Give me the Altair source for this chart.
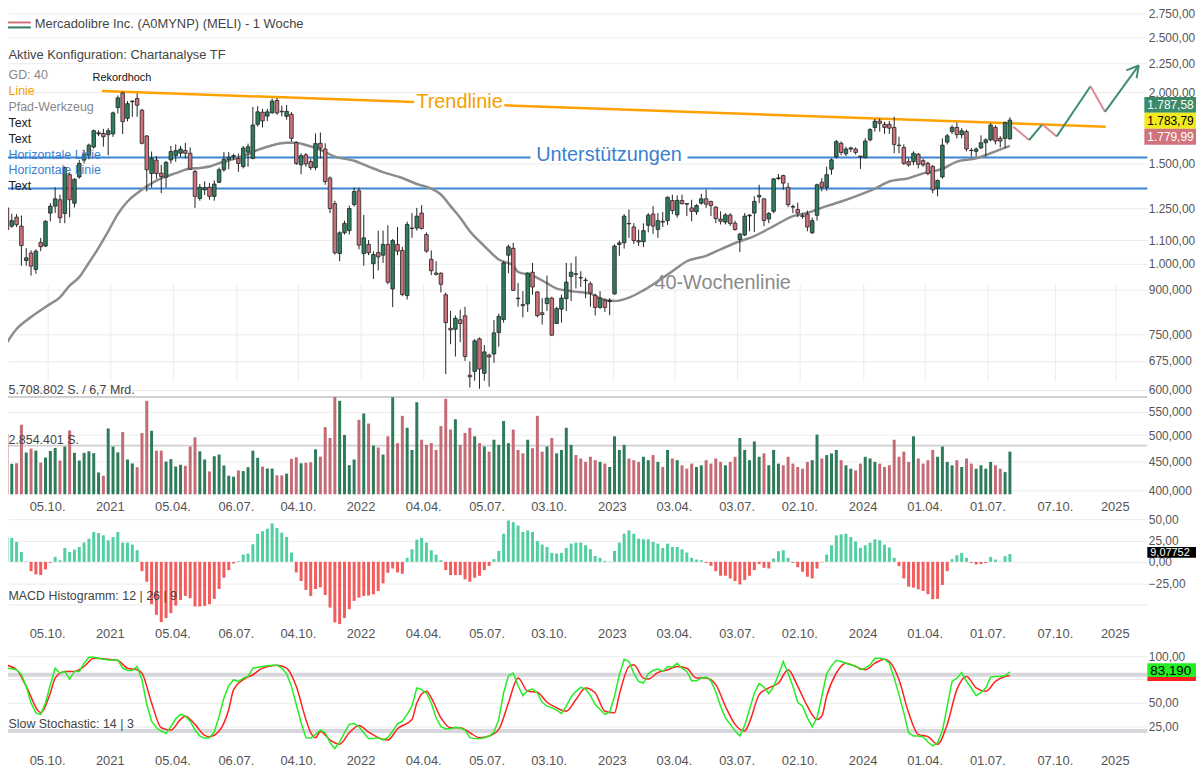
import altair as alt
import pandas as pd
import numpy as np

FONT = "Liberation Sans"

# ---------------- data ----------------
N_WEEKS = 210
FIRST_WEEK = "2020-07-31"

opens = [1114,1253,1164,1207,1164,1013,1044,977,1090,1074,
1227,1262,1295,1225,1433,1277,1420,1520,1550,1603,
1690,1693,1685,1690,1880,1995,1800,1925,1950,1860,
1676,1440,1520,1442,1418,1521,1548,1563,1580,1563,
1452,1302,1348,1362,1313,1390,1462,1525,1540,1531,
1481,1570,1531,1757,1845,1816,1840,1935,1852,1815,
1830,1631,1491,1553,1511,1475,1627,1590,1414,1275,
1042,1133,1143,1270,1343,1042,1081,1000,1046,1035,
1081,903,1081,1055,879,1153,1155,1227,1125,1018,
963,962,882,770,767,797,810,637,647,738,
642,691,694,757,798,1035,1064,870,848,850,
966,892,820,851,870,785,832,868,950,960,
946,936,922,880,838,862,858,885,1081,1088,
1177,1160,1098,1093,1168,1222,1148,1187,1190,1291,
1218,1291,1275,1253,1233,1277,1300,1286,1257,1198,
1183,1217,1178,1103,1123,1213,1227,1310,1300,1198,
1236,1410,1428,1362,1260,1245,1214,1222,1133,1216,
1390,1362,1465,1540,1627,1560,1590,1590,1545,1536,
1650,1735,1780,1757,1757,1735,1615,1600,1511,1511,
1557,1517,1500,1481,1357,1420,1635,1706,1735,1685,
1706,1582,1575,1597,1631,1650,1735,1660,1660,1657]

highs = [1236,1258,1223,1222,1215,1065,1056,1060,1110,1192,
1277,1362,1322,1481,1445,1413,1520,1585,1625,1720,
1715,1725,1730,1850,1975,2005,1930,1935,1990,1870,
1682,1574,1545,1491,1515,1610,1620,1610,1630,1600,
1462,1380,1395,1385,1400,1475,1570,1570,1560,1560,
1610,1625,1885,1890,1870,1870,1950,1955,1895,1900,
1845,1640,1563,1565,1530,1693,1700,1627,1423,1290,
1140,1190,1265,1360,1360,1218,1100,1052,1143,1143,
1168,1105,1160,1070,1185,1227,1253,1267,1135,1055,
1010,966,890,826,811,830,840,673,737,742,
720,695,796,817,1010,1081,1088,925,895,966,
1003,895,870,953,875,840,882,1003,1003,1030,
970,945,930,886,895,868,870,1081,1098,1222,
1245,1178,1148,1177,1227,1262,1227,1232,1313,1322,
1318,1322,1277,1295,1272,1326,1350,1290,1262,1236,
1227,1227,1190,1133,1227,1222,1313,1376,1303,1232,
1413,1437,1433,1387,1270,1280,1227,1240,1205,1382,
1413,1481,1531,1650,1640,1605,1605,1600,1548,1660,
1730,1795,1800,1775,1780,1811,1671,1620,1530,1575,
1565,1530,1511,1491,1405,1660,1690,1750,1770,1730,
1720,1597,1600,1680,1660,1765,1750,1675,1776,1808]

lows = [1108,1143,1156,1160,992,992,953,960,1052,1070,
1187,1227,1178,1178,1207,1255,1410,1500,1525,1592,
1675,1605,1550,1670,1835,1690,1778,1811,1811,1620,
1339,1360,1410,1330,1360,1500,1510,1540,1530,1460,
1253,1290,1320,1295,1290,1385,1450,1465,1520,1450,
1470,1480,1525,1740,1735,1780,1835,1825,1815,1790,
1638,1490,1436,1480,1460,1460,1530,1376,1227,1037,
1010,1125,1125,1260,1060,992,1035,940,973,1003,
920,839,1035,877,865,1110,1143,1148,1045,955,
953,890,640,722,687,728,675,606,623,603,
623,608,670,715,788,962,895,840,805,823,
882,805,782,826,746,784,788,826,860,905,
910,870,840,811,833,823,812,882,1032,1063,
1110,1083,1074,1070,1135,1128,1110,1160,1170,1222,
1205,1270,1212,1187,1218,1270,1253,1212,1178,1172,
1172,1165,1143,1048,1118,1140,1137,1277,1164,1178,
1227,1404,1348,1257,1227,1207,1200,1140,1128,1190,
1340,1343,1433,1531,1550,1545,1570,1555,1467,1531,
1640,1706,1706,1690,1690,1563,1563,1491,1480,1490,
1470,1480,1430,1330,1313,1410,1620,1690,1660,1660,
1575,1542,1542,1590,1542,1640,1620,1600,1596,1650]

closes = [1174,1148,1190,1171,1076,1024,990,1052,1071,1187,
1262,1300,1204,1475,1295,1407,1500,1556,1615,1712,
1698,1671,1712,1840,1955,1776,1910,1930,1898,1627,
1462,1530,1440,1423,1506,1574,1580,1590,1563,1465,
1313,1362,1360,1313,1380,1462,1525,1537,1548,1500,
1596,1605,1752,1848,1781,1848,1930,1840,1848,1852,
1660,1500,1548,1497,1475,1625,1596,1394,1250,1045,
1133,1177,1250,1339,1078,1110,1045,1038,1028,1081,
928,1098,1052,883,1172,1155,1212,1153,1052,972,
958,920,788,765,802,785,687,633,732,653,
700,686,756,808,1003,1071,898,868,844,963,
910,811,814,870,749,834,870,928,966,958,
944,934,888,838,870,838,862,1074,1088,1212,
1175,1098,1092,1143,1217,1164,1190,1183,1308,1240,
1292,1275,1272,1236,1265,1300,1272,1265,1200,1187,
1218,1176,1148,1127,1212,1217,1286,1318,1191,1225,
1409,1415,1385,1270,1257,1227,1210,1160,1190,1376,
1362,1433,1522,1638,1568,1590,1597,1568,1540,1642,
1720,1780,1764,1735,1730,1620,1612,1500,1491,1563,
1495,1491,1440,1348,1400,1615,1677,1735,1685,1712,
1590,1580,1590,1631,1650,1752,1642,1642,1770,1787.58]

# weekly volume, millions of shares
volumes = [2.81,3.54,1.79,1.82,4.08,2.45,2.68,2.56,1.86,2.16,
2.54,2.72,1.98,2.80,3.75,2.43,1.98,2.43,2.52,2.41,
1.28,1.09,3.86,2.80,2.46,3.65,2.04,1.81,1.59,3.59,
5.48,3.73,2.56,2.56,1.92,2.06,1.63,1.73,1.67,2.80,
3.34,2.52,2.04,1.34,2.23,2.33,1.69,1.09,1.03,1.40,
1.36,1.59,2.56,2.14,1.61,1.51,1.51,1.11,1.11,1.21,
2.08,2.17,1.82,1.85,1.88,2.64,2.21,3.94,3.30,5.70,
5.48,3.48,1.71,2.04,4.37,4.74,4.15,2.85,2.74,2.33,
3.40,5.69,3.0,4.6,3.9,2.6,5.4,3.2,2.9,3.0,
2.6,4.0,5.6,3.8,4.4,2.9,3.6,3.9,3.4,3.0,
2.8,2.5,3.2,2.9,4.3,3.0,3.8,2.6,2.4,3.2,
2.7,4.6,2.5,2.8,3.3,2.4,2.6,3.9,2.9,2.3,
2.1,1.9,2.2,2.0,1.9,1.8,1.6,3.4,2.6,2.9,
2.1,2.0,1.9,2.2,2.0,2.3,1.9,1.6,2.6,2.1,
2.0,1.7,1.5,1.8,1.6,1.7,2.0,1.8,2.1,1.9,
1.7,1.9,2.2,3.3,2.6,2.0,3.1,2.2,2.4,1.7,
2.6,1.8,1.7,2.2,1.8,1.6,1.5,1.9,2.0,3.5,
2.1,2.3,2.4,2.6,2.0,1.7,1.5,1.4,1.8,2.2,
2.1,1.9,1.8,1.6,1.7,3.2,2.2,2.5,1.9,3.4,
2.1,1.8,2.0,2.6,2.2,2.8,1.9,1.7,2.0,1.6,
2.1,1.8,1.5,1.7,1.5,1.9,1.7,1.5,1.3,2.5]
VOL_MAX = 5.708802
VOL_HALF = 2.854401

macd = [31.8,29,27.9,23.3,11.6,0.5,-10.9,-14.7,-15.5,-8.9,
-1,5.8,1.9,16.3,11.6,14.3,17.4,22.5,27.1,34.9,
33.7,31,25.2,29.1,34.9,22.5,22.5,20.2,13.6,-10.9,
-23.3,-49.6,-62,-70.5,-65.9,-60,-51.2,-44.6,-39.9,-42.6,
-52.3,-52.3,-51.6,-49.6,-43.4,-31.8,-18.6,-9.7,-1.9,0.8,
8.5,9.7,20.5,32.9,35.7,38.8,45,39.5,34.1,29.1,
10.9,-12.4,-22.5,-32.9,-39.9,-31.8,-29.8,-38.8,-53.5,-70.9,
-72.9,-65.9,-55.4,-45.7,-41.9,-39.9,-39.5,-38,-34.1,-25.2,
-12.8,-7.8,-12.4,-14,4.7,14.7,26,27.9,22.5,13.6,
8.5,1.9,-9.7,-15.5,-15.5,-15.5,-20.5,-23.3,-18.6,-16.3,
-9.7,-4.7,3.1,12.8,32.9,48.4,46.5,42.6,34.9,36.8,
34.9,24.4,20.2,17.4,10.5,9.7,10.5,16.3,21.3,22.5,
22.5,19.4,14.7,7,4.7,1.2,0.4,12.8,22.5,32.9,
36.8,32.9,27.1,26.4,26.4,23.3,21.3,16.3,21.3,17.4,
17.4,14.7,10.9,4.7,2.7,1.9,-1.2,-4.7,-10.9,-16.3,
-16.3,-19.4,-22.5,-26.4,-21.3,-16.3,-9.7,-2.7,-7,-7.8,
3.9,12.4,13.6,4.7,-1.2,-6.2,-11.6,-17.4,-19.4,-7.8,
-0.4,8.5,19.4,31,32.2,32.9,29.1,24,16.3,19.4,
22.5,26.4,25.2,20.2,16.7,4.7,-5,-19.4,-29.1,-30.2,
-32.2,-34.1,-38,-43.8,-43.4,-27.1,-10.9,3.1,7.8,10.5,
4.7,-1.2,-3.1,-2.7,-1.2,5.8,2.7,0.3,6.6,9.08]

stoch_k = [91.7,87.1,86.4,85.4,80.1,67.7,50,39.4,37.7,50,
69.4,87.1,81.8,83.6,75.5,83.6,83.6,92.4,98.8,98.8,
97.7,96.6,95.9,95.9,95.9,87.1,84.7,84.7,89,74.8,
48.3,30.6,23.5,20,17.5,24.6,33.1,37.7,35.9,30.6,
21.1,14.7,12.2,12.9,18.9,35.9,55.3,68.4,74.8,73,
76.5,78.3,87.1,88.2,88.9,89.6,90.3,90.3,87.1,81.1,
67.7,48.3,28.8,12.9,12.2,16.5,21.1,18.2,7.6,1.3,
8.3,18.2,27.1,28.1,24.6,18.2,11.9,11.9,12.9,10.5,
12.9,20,27.8,30.6,37.7,46.5,65.9,64.2,60.6,50,
34.1,24.6,22.5,22.5,23.9,23.2,21.1,12.9,11.9,11.9,
12.9,14.7,18.9,32.4,60.6,79,81.8,68.4,57.8,63.4,
64.8,60.6,50.7,46.5,44.7,42.3,38.7,46.5,56.4,62.4,
66.6,64.8,57.8,48.3,42.9,37.7,40.1,57.1,79.9,96.7,
94.2,81.8,73,71.2,81.1,84.7,86.1,83.6,88.9,88.2,
92.4,87.1,83.6,73.6,73.6,76.5,77.6,73.6,62,46.5,
34.1,27.1,20.2,14.7,26,43,60.6,70.6,67,59.9,
67.7,79.9,94.2,81.8,67.7,50.7,46.5,34.1,24.6,34.1,
57.1,81.1,89.6,95.6,94.2,92.4,90.7,89.6,85.4,87.1,
90.7,97.7,97.7,96.7,92.4,76.5,58.9,39.4,18.2,14.7,
14.7,14,8.3,4.1,7.6,20,46.5,73,76.5,82.5,
73,65.9,57.8,61.3,65.9,77.6,78.3,78.3,79,83.19]

stoch_d_week = [0,3,5,8,10,11,13,15,17,19,22,24,26,28,29,31,33,35,37,38,
40,42,43,45,47,48,50,52,54,57,59,61,63,64,65,66,68,70,72,74,
76,78,80,82,85,86,88,89,91,93,95,97,99,101,103,105,107,109,111,113,
115,117,119,121,123,125,127,128,130,131,133,134,136,138,140,142,144,146,148,150,
152,154,155,157,159,161,163,165,167,169,170,171,173,175,177,179,181,183,184,186,
188,190,192,194,196,198,200,202,204,206,208,209]
stoch_d_val = [91.7,85.4,67.7,39.8,60.6,76.5,83.6,83.6,88.9,97.7,96.7,95.3,87.1,85.4,81.8,50,23.5,21.1,32.4,35.9,
27.1,15.4,14,20,43,64.2,74.8,80.1,87.1,90.3,87.1,67.7,32.4,18.2,12.9,19.6,10.5,5.9,18.2,26,
18.9,12.9,10.5,22.5,32.4,50,62.4,55.3,34.1,23.5,23.5,18.2,12.9,14.7,21.8,50,76.5,62.4,61.3,50.7,
44.7,41.2,53.6,66,60.6,41.2,39.4,58.9,88.9,90.7,76.5,75.5,82.5,85.4,88.9,87.1,76.5,76.5,69.5,46.5,
27.1,20,29.5,58.9,66,71.2,85.4,67.7,46.5,32.4,36,57.1,81.8,92.4,88.9,85.4,92.4,96.7,94.2,74.8,
39.4,16.5,14,5.9,27.1,64.2,78.3,66,62.4,73,78.3,79]

# 40-week moving average (read at these weeks)
sma_week = [0,3,6,10,12,14,16,18,20,22,24,26,28,30,32,34,36,39,41,43,
45,47,49,51,53,55,59,61,63,66,69,73,76,79,83,86,89,91,93,95,
97,100,103,106,107,110,113,115,118,122,124,127,130,133,139,142,146,149,153,156,
158,160,164,167,171,174,177,181,184,188,191,195,198,202,205,209]
sma_val = [705,768,806,850,873,915,947,1004,1066,1140,1222,1286,1330,1367,1399,1423,1442,1469,1473,1481,
1501,1518,1536,1557,1585,1605,1631,1631,1616,1585,1542,1516,1481,1448,1414,1380,1355,1323,1262,1204,
1140,1074,1017,992,967,953,924,904,895,886,869,860,872,898,970,1010,1032,1060,1095,1118,
1140,1164,1212,1228,1262,1286,1313,1355,1394,1413,1441,1467,1511,1531,1563,1610]

# drawing tools
support_levels = [1536, 1355]
trend_start, trend_start_price = "2020-12-23", 2011
trend_end, trend_end_price = "2024-12-19", 1740
trend_gap = [("2022-03-21", 1922), ("2022-07-30", 1897)]
support_gap = ["2022-09-06", "2023-04-22"]
path_dates = ["2024-08-07", "2024-08-30", "2024-09-18", "2024-10-09", "2024-11-27", "2024-12-18", "2025-02-05"]
path_prices = [1740, 1649, 1757, 1673, 2049, 1848, 2229]
arrow_wings = [("2025-01-18", 2185), ("2025-02-02", 2118)]

tick_dates = ["2020-10-05", "2021-01-04", "2021-04-05", "2021-07-06", "2021-10-04", "2022-01-03",
              "2022-04-04", "2022-07-05", "2022-10-03", "2023-01-03", "2023-04-03", "2023-07-03",
              "2023-10-02", "2024-01-02", "2024-04-01", "2024-07-01", "2024-10-07", "2025-01-02"]
tick_labels = ["05.10.", "2021", "05.04.", "06.07.", "04.10.", "2022", "04.04.", "05.07.", "03.10.",
               "2023", "03.04.", "03.07.", "02.10.", "2024", "01.04.", "01.07.", "07.10.", "2025"]
price_ticks = [400, 450, 500, 550, 600, 675, 750, 900, 1000, 1100, 1250, 1500, 2000, 2250, 2500, 2750]

# ---------------- colours ----------------
C_UP, C_DOWN, C_SEL = "#2e7d5b", "#cd717b", "#6f9fe0"
C_VUP, C_VDOWN = "#2e7b5a", "#c56b76"
C_MPOS, C_MNEG = "#52cfa0", "#f25c5c"
C_PUP, C_PDOWN = "#3f8f6c", "#dc8a93"

# ---------------- frames ----------------
dates = pd.date_range(FIRST_WEEK, periods=N_WEEKS, freq="7D")
df = pd.DataFrame({"date": dates, "open": opens, "high": highs, "low": lows, "close": closes,
                   "vol": volumes, "macd": macd, "k": stoch_k})
up = df["close"] >= df["open"]
df["bc"] = np.where(up, C_UP, C_DOWN)
df["vc"] = np.where(up, C_VUP, C_VDOWN)
df.loc[0, "vc"] = C_SEL
df["mc"] = np.where(df["macd"] >= 0, C_MPOS, C_MNEG)

sma_df = pd.DataFrame({"date": dates[sma_week], "v": sma_val})
d_df = pd.DataFrame({"date": dates[stoch_d_week], "v": stoch_d_val})

def ts(s):
    return pd.Timestamp(s)

DOM0 = ts("2020-07-28")
DOM1 = ts("2025-02-17 12:00")

support_df = pd.DataFrame({
    "date": [DOM0, ts(support_gap[1]), DOM0],
    "date2": [ts(support_gap[0]), DOM1, DOM1],
    "p": [support_levels[0], support_levels[0], support_levels[1]]})
trend_df = pd.DataFrame({
    "date": [ts(trend_start), ts(trend_gap[1][0])],
    "date2": [ts(trend_gap[0][0]), ts(trend_end)],
    "p": [trend_start_price, trend_gap[1][1]],
    "p2": [trend_gap[0][1], trend_end_price]})
segs = []
for i in range(len(path_dates) - 1):
    segs.append((ts(path_dates[i]), path_prices[i], ts(path_dates[i + 1]), path_prices[i + 1],
                 C_PDOWN if path_prices[i + 1] < path_prices[i] else C_PUP))
for wd, wp in arrow_wings:
    segs.append((ts(path_dates[-1]), path_prices[-1], ts(wd), wp, C_PUP))
path_df = pd.DataFrame(segs, columns=["date", "p", "date2", "p2", "c"])

tick_df = pd.DataFrame({"date": [ts(t) for t in tick_dates], "lab": tick_labels})

# ---------------- layout (chart origin = page (8, 8)) ----------------
W, H = 1147, 762
xs = alt.Scale(domain=[alt.DateTime(year=2020, month=8, date=8, hours=12, minutes=52),
                       alt.DateTime(year=2025, month=2, date=17, hours=12)], padding=0)
xaxis = alt.Axis(values=[alt.DateTime(year=int(t[:4]), month=int(t[5:7]), date=int(t[8:10])) for t in tick_dates],
                 labels=False, grid=True, gridColor="#ececec", ticks=False, domain=False, title=None)

def X(field="date"):
    return alt.X(f"{field}:T", scale=xs, axis=xaxis, title=None)

price_scale = alt.Scale(type="log", domain=[393.6, 2874], range=[487, -8], nice=False, padding=0)
vol_scale = alt.Scale(domain=[0, VOL_MAX], range=[487, 389], nice=False, padding=0)
macd_scale = alt.Scale(domain=[-70, 50], range=[615.2, 512], nice=False, padding=0)
stoch_scale = alt.Scale(domain=[0, 100], range=[744.2, 649.9], nice=False, padding=0)

AXIS_FS = 12
common_y = dict(grid=True, gridColor="#ececec", ticks=False, domain=False, labelFontSize=AXIS_FS,
                labelColor="#555555", labelPadding=1, labelFont=FONT, title=None, orient="right",
                labelOverlap=False, labelFlush=False)
price_axis = alt.Axis(values=price_ticks,
                      labelExpr="datum.value >= 1000 ? replace(replace(replace(format(datum.value, ',.2f'), ',', '_'), '.', ','), '_', '.') : replace(format(datum.value, '.3f'), '.', ',')",
                      **common_y)
macd_axis = alt.Axis(values=[50, 25, 0, -25, -50],
                     labelExpr="datum.value == -50 ? '' : replace(format(datum.value, '.2f'), '.', ',')",
                     **common_y)
# the 75 label sits under the last-value box, as in the original
stoch_axis = alt.Axis(values=[100, 75, 50, 25],
                      labelExpr="datum.value == 75 ? '' : replace(format(datum.value, '.2f'), '.', ',')",
                      **common_y)

def Yp(field, axis=None):
    return alt.Y(f"{field}:Q", scale=price_scale, axis=axis, title=None)

layers = []

# volume
vref = pd.DataFrame({"v": [VOL_MAX, VOL_HALF]})
layers.append(alt.Chart(vref).mark_rule(color="#d0d0d0", strokeWidth=2).encode(
    y=alt.Y("v:Q", scale=vol_scale, axis=None)))
layers.append(alt.Chart(df).mark_bar(size=3).encode(
    x=X(), y=alt.Y("vol:Q", scale=vol_scale, axis=None), color=alt.Color("vc:N", scale=None)))

# drawing tools
layers.append(alt.Chart(support_df).mark_rule(color="#3d86d4", strokeWidth=2).encode(
    x=X(), x2="date2:T", y=Yp("p")))
layers.append(alt.Chart(trend_df).mark_rule(color="#ffa200", strokeWidth=2.5).encode(
    x=X(), x2="date2:T", y=Yp("p"), y2="p2:Q"))

# 40-week line
layers.append(alt.Chart(sma_df).mark_line(color="#8c8c8c", strokeWidth=2.5, interpolate="monotone").encode(
    x=X(), y=Yp("v")))

# candles
layers.append(alt.Chart(df).mark_rule(color="#222222", strokeWidth=1).encode(
    x=X(), y=Yp("low", price_axis), y2="high:Q"))
layers.append(alt.Chart(df).mark_bar(size=3.6, stroke="#222222", strokeWidth=0.8).encode(
    x=X(), y=Yp("open"), y2="close:Q", color=alt.Color("bc:N", scale=None)))

# path tool
layers.append(alt.Chart(path_df).mark_rule(strokeWidth=2).encode(
    x=X(), x2="date2:T", y=Yp("p"), y2="p2:Q", color=alt.Color("c:N", scale=None)))

# annotation texts on the price chart
ann = pd.DataFrame({
    "date": [ts("2022-05-26"), ts("2022-12-29"), ts("2023-06-12")],
    "p": [1925, 1553, 924],
    "t": ["Trendlinie", "Unterstützungen", "40-Wochenlinie"],
    "c": ["#f5a000", "#3a7fcf", "#8a8a8a"]})
layers.append(alt.Chart(ann).mark_text(fontSize=20, baseline="middle", align="center", font=FONT).encode(
    x=X(), y=Yp("p"), text="t:N", color=alt.Color("c:N", scale=None)))
rek = pd.DataFrame({"date": [ts("2021-01-21")], "p": [2118], "t": ["Rekordhoch"]})
layers.append(alt.Chart(rek).mark_text(fontSize=11, baseline="middle", align="center", color="#111111",
                                       font=FONT).encode(x=X(), y=Yp("p"), text="t:N"))

# MACD histogram
layers.append(alt.Chart(df).mark_bar(size=3).encode(
    x=X(), y=alt.Y("macd:Q", scale=macd_scale, axis=macd_axis, title=None),
    color=alt.Color("mc:N", scale=None)))

# stochastic
sref = pd.DataFrame({"v": [80, 20]})
layers.append(alt.Chart(sref).mark_rule(color="#d6d6dc", strokeWidth=4).encode(
    y=alt.Y("v:Q", scale=stoch_scale, axis=None)))
layers.append(alt.Chart(d_df).mark_line(color="#ff2020", strokeWidth=1.5, interpolate="monotone").encode(
    x=X(), y=alt.Y("v:Q", scale=stoch_scale, axis=None)))
layers.append(alt.Chart(df).mark_line(color="#22ee22", strokeWidth=1.5).encode(
    x=X(), y=alt.Y("k:Q", scale=stoch_scale, axis=stoch_axis, title=None)))

# date label rows under each panel
for ypix in (500, 628, 756):
    layers.append(alt.Chart(tick_df).mark_text(fontSize=13, color="#555555", baseline="middle",
                                               font=FONT).encode(x=X(), y=alt.value(ypix), text="lab:N"))

# left side texts
one = pd.DataFrame({"a": [0]})
left_texts = [
    ("Mercadolibre Inc. (A0MYNP) (MELI) - 1 Woche", 27, 14, "#444444", 13),
    ("Aktive Konfiguration: Chartanalyse TF", 0.5, 45, "#444444", 13),
    ("GD: 40", 0.5, 65, "#888888", 12.5),
    ("Linie", 0.5, 81, "#f5a000", 12.5),
    ("Pfad-Werkzeug", 0.5, 97, "#888888", 12.5),
    ("Text", 0.5, 113, "#222222", 12.5),
    ("Text", 0.5, 129, "#222222", 12.5),
    ("Horizontale Linie", 0.5, 145, "#3a7fcf", 12.5),
    ("Horizontale Linie", 0.5, 161, "#3a7fcf", 12.5),
    ("Text", 0.5, 177, "#222222", 12.5),
    ("5.708.802 S. / 6,7 Mrd.", 0.5, 382, "#444444", 12.5),
    ("2.854.401 S.", 0.5, 432, "#444444", 12.5),
    ("MACD Histogramm: 12 | 26 | 9", 0.5, 589, "#444444", 12.5),
    ("Slow Stochastic: 14 | 3", 0.5, 718, "#444444", 12.5),
]
for t, xp, yp, c, fs in left_texts:
    layers.append(alt.Chart(one).mark_text(align="left", baseline="middle", fontSize=fs, color=c,
                                           font=FONT).encode(x=alt.value(xp), y=alt.value(yp), text=alt.value(t)))

# legend icon
layers.append(alt.Chart(one).mark_rule(color="#d0707a", strokeWidth=2).encode(
    x=alt.value(0), x2=alt.value(23), y=alt.value(12)))
layers.append(alt.Chart(one).mark_rule(color="#2e7d5b", strokeWidth=2).encode(
    x=alt.value(0), x2=alt.value(23), y=alt.value(17)))

# last value boxes on the right axis
boxes = [
    (1144, 1196, 87, 103, "#3b8a69", "1.787,58", "#ffffff", 12),
    (1144, 1196, 103, 119, "#f2ea1c", "1.783,79", "#000000", 12),
    (1144, 1196, 119, 135, "#d1737d", "1.779,99", "#ffffff", 12),
    (1147, 1196, 540, 551, "#000000", "9,07752", "#ffffff", 11),
    (1147, 1196, 657, 671, "#22ee22", "83,190", "#000000", 13.5),
]
for x0, x1, y0, y1, fill, t, tc, fs in boxes:
    layers.append(alt.Chart(one).mark_rect(color=fill).encode(
        x=alt.value(x0), x2=alt.value(x1), y=alt.value(y0), y2=alt.value(y1)))
    layers.append(alt.Chart(one).mark_text(align="left", baseline="middle", fontSize=fs, color=tc,
                                           font=FONT).encode(x=alt.value(x0 + 3), y=alt.value((y0 + y1) / 2 + 0.5),
                                                             text=alt.value(t)))
layers.append(alt.Chart(one).mark_rect(color="#ff2020").encode(
    x=alt.value(1147), x2=alt.value(1196), y=alt.value(671), y2=alt.value(675)))

chart = alt.layer(*layers).resolve_scale(y="independent").properties(
    width=W, height=H,
    autosize=alt.AutoSizeParams(type="none"),
    padding={"left": 0, "top": 0, "right": 49, "bottom": 0},
).configure(font=FONT).configure_view(stroke=None)

chart.save("out.html", embed_options={"renderer": "svg", "actions": False})
